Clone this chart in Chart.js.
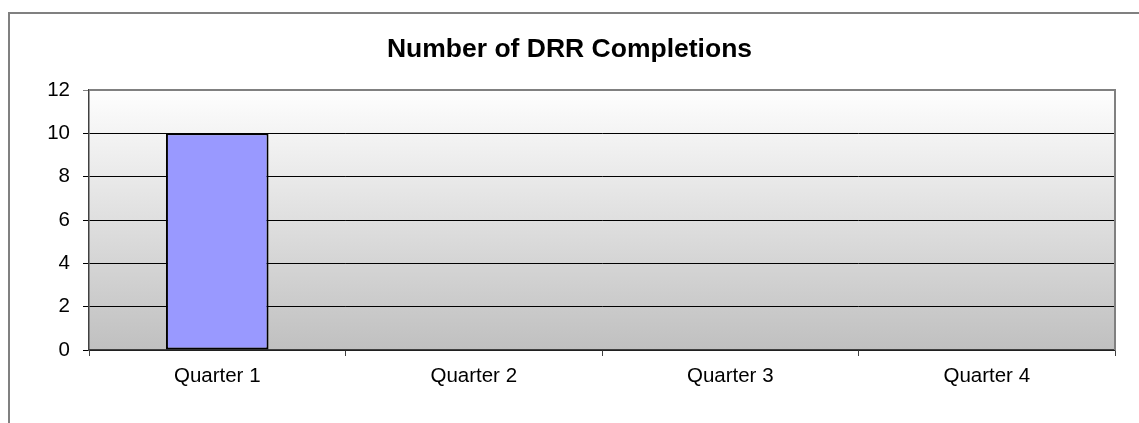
<!DOCTYPE html>
<html>
<head>
<meta charset="utf-8">
<script src="https://cdn.jsdelivr.net/npm/chart.js@4"></script>
<style>
  html, body { margin: 0; padding: 0; background: #fff; }
  #wrap { width: 1139px; height: 423px; position: relative; }
</style>
</head>
<body>
<div id="wrap"><canvas id="chart"></canvas></div>
<script>
const chartTitle = 'Number of DRR Completions';
const quarters = ['Quarter 1', 'Quarter 2', 'Quarter 3', 'Quarter 4'];
const completions = [10, 0, 0, 0];
const yTicks = [0, 2, 4, 6, 8, 10, 12];

// frame, plot background gradient and title
const decor = {
    id: 'decor',
    beforeDraw(chart) {
        const { ctx, chartArea: a } = chart;
        ctx.save();
        const g = ctx.createLinearGradient(0, a.top, 0, a.bottom);
        g.addColorStop(0, '#fefefe');
        g.addColorStop(1, '#c0c0c0');
        ctx.fillStyle = g;
        ctx.fillRect(a.left, a.top, a.right - a.left, a.bottom - a.top);

        // outer chart border (left + top visible)
        ctx.strokeStyle = '#808080';
        ctx.lineWidth = 2;
        ctx.beginPath();
        ctx.moveTo(9, 440);
        ctx.lineTo(9, 13);
        ctx.lineTo(1160, 13);
        ctx.stroke();

        ctx.fillStyle = '#000';
        ctx.font = 'bold 26.5px "Liberation Sans", Arial, sans-serif';
        ctx.textAlign = 'center';
        ctx.textBaseline = 'middle';
        ctx.fillText(chartTitle, chart.width / 2, 50);
        ctx.restore();
    },
    afterDatasetsDraw(chart) {
        const { ctx, chartArea: a } = chart;
        ctx.save();
        ctx.strokeStyle = '#808080';
        ctx.lineWidth = 2;
        ctx.beginPath();
        ctx.moveTo(a.left, a.top);
        ctx.lineTo(a.right, a.top);
        ctx.lineTo(a.right, a.bottom);
        ctx.stroke();
        ctx.restore();
    }
};

const tickFont = { family: '"Liberation Sans", Arial, sans-serif', size: 20.5 };

new Chart(document.getElementById('chart'), {
    type: 'bar',
    data: {
        labels: quarters,
        datasets: [{
            data: completions,
            backgroundColor: '#9999ff',
            borderColor: '#000',
            borderWidth: 2,
            borderSkipped: false,
            barPercentage: 0.5,
            categoryPercentage: 0.8
        }]
    },
    options: {
        responsive: true,
        maintainAspectRatio: false,
        animation: false,
        layout: { padding: { top: 90, right: 24, bottom: 0, left: 0 } },
        plugins: { legend: { display: false }, tooltip: { enabled: false } },
        scales: {
            x: {
                afterFit(s) { s.height = 73; },
                grid: { drawOnChartArea: false, tickLength: 6, color: '#404040', offset: true },
                border: { color: '#404040', width: 1.5 },
                ticks: { color: '#000', padding: 8, font: tickFont }
            },
            y: {
                min: 0,
                max: 12,
                afterFit(s) { s.width = 89; },
                afterBuildTicks(s) { s.ticks = yTicks.map(v => ({ value: v })); },
                grid: {
                    tickLength: 6,
                    color: c => (c.tick && c.tick.value === 12 ? '#808080' : '#000'),
                    lineWidth: 1
                },
                border: { color: '#404040', width: 1.5 },
                ticks: { color: '#000', padding: 13, font: tickFont }
            }
        }
    },
    plugins: [decor]
});
</script>
</body>
</html>
